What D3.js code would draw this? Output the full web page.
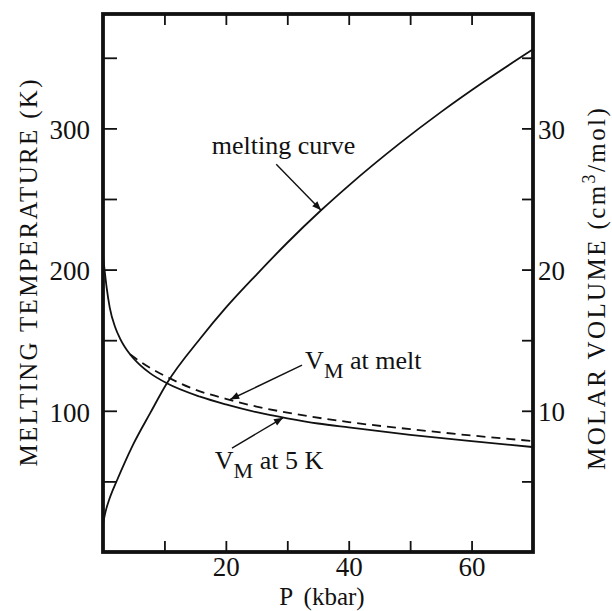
<!DOCTYPE html>
<html>
<head>
<meta charset="utf-8">
<script src="https://cdn.jsdelivr.net/npm/d3@7/dist/d3.min.js"></script>
<style>
  html, body { margin: 0; padding: 0; background: #fff; }
  svg text { font-family: "Liberation Serif", "Times New Roman", serif; }
  .axis text { font-size: 27px; fill: #111; font-family: "Liberation Serif", "Times New Roman", serif; }
  .axis line { stroke: #111; stroke-width: 1.8; }
  .axis path.domain { display: none; }
</style>
</head>
<body>
<div id="chart"></div>
<script>
// Melting curve (P in kbar, T in K).
const meltP = [0, 0.5, 1, 2.3, 3.5, 4.9, 7.7, 10.4, 15.8, 20, 25, 30, 35.5, 40, 48.2, 55, 62, 70];
const meltT = [20, 30, 37, 51, 63, 76, 98.5, 119.5, 151, 173, 196.5, 219, 242, 259.5, 289, 311.5, 333, 356];

// Molar volume at 5 K (solid), cm^3/mol.
const vol5P = [0, 0.3, 0.6, 1.1, 2, 2.8, 4.4, 6, 7.7, 10.4, 15.8, 20, 25, 30, 35, 40, 50, 60, 70];
const vol5V = [21.0, 19.8, 18.7, 17.3, 15.9, 15.1, 14.0, 13.25, 12.65, 11.95, 11.0, 10.45, 9.9, 9.47, 9.1, 8.82, 8.3, 7.85, 7.43];

// Molar volume along the melting line (dashed).
const volMeltP = [4.4, 6, 8, 10.4, 15, 20, 25, 30, 40, 50, 60, 70];
const volMeltV = [14.0, 13.5, 12.95, 12.4, 11.5, 10.85, 10.3, 9.87, 9.2, 8.7, 8.25, 7.86];

// Tick values for the frame.
const pTicks = [10, 20, 30, 40, 50, 60];
const pLabels = [20, 40, 60];
const tTicks = [50, 100, 150, 200, 250, 300, 350];
const tLabels = [100, 200, 300];
const vTicks = [5, 10, 15, 20, 25, 30, 35];
const vLabels = [10, 20, 30];

(function(){
  const width = 612, height = 611;
  const frame = {left: 103, right: 533, top: 14, bottom: 552};
  const ink = '#111';

  const svg = d3.select('#chart').append('svg')
    .attr('width', width)
    .attr('height', height);

  // Arrow head used by the annotations.
  svg.append('defs').append('marker')
    .attr('id', 'arrow')
    .attr('viewBox', '0 0 10 10')
    .attr('refX', 10).attr('refY', 5)
    .attr('markerWidth', 12).attr('markerHeight', 9)
    .attr('markerUnits', 'userSpaceOnUse')
    .attr('orient', 'auto')
    .append('path')
    .attr('d', 'M0,1 L10,5 L0,9 Z')
    .attr('fill', ink);

  const x = d3.scaleLinear().domain([0, 70]).range([frame.left, frame.right]);
  const yT = d3.scaleLinear().domain([0, 381]).range([frame.bottom, frame.top]);
  const yV = d3.scaleLinear().domain([0, 38.1]).range([frame.bottom, frame.top]);

  const labelIf = list => d => list.includes(d) ? d : '';

  // Axes: every tick points into the frame.
  svg.append('g').attr('class', 'axis')
    .attr('transform', `translate(0,${frame.bottom})`)
    .call(d3.axisBottom(x).tickValues(pTicks).tickSize(-11).tickPadding(5).tickFormat(labelIf(pLabels)));

  svg.append('g').attr('class', 'axis')
    .attr('transform', `translate(0,${frame.top})`)
    .call(d3.axisTop(x).tickValues(pTicks).tickSize(-11).tickFormat(''));

  svg.append('g').attr('class', 'axis')
    .attr('transform', `translate(${frame.left},0)`)
    .call(d3.axisLeft(yT).tickValues(tTicks).tickSize(-14).tickPadding(13).tickFormat(labelIf(tLabels)))
    .selectAll('text').attr('dy', '0.38em');

  svg.append('g').attr('class', 'axis')
    .attr('transform', `translate(${frame.right},0)`)
    .call(d3.axisRight(yV).tickValues(vTicks).tickSize(-11).tickPadding(5).tickFormat(labelIf(vLabels)))
    .selectAll('text').attr('dy', '0.36em');

  // Heavy box round the plot.
  svg.append('rect')
    .attr('x', frame.left).attr('y', frame.top)
    .attr('width', frame.right - frame.left)
    .attr('height', frame.bottom - frame.top)
    .attr('fill', 'none')
    .attr('stroke', ink)
    .attr('stroke-width', 3.8);

  // Curves.
  const plot = svg.append('g');
  const lineT = d3.line().x(d => x(d[0])).y(d => yT(d[1])).curve(d3.curveMonotoneX);
  const lineV = d3.line().x(d => x(d[0])).y(d => yV(d[1])).curve(d3.curveMonotoneX);

  plot.append('path')
    .datum(d3.zip(meltP, meltT))
    .attr('d', lineT)
    .attr('fill', 'none').attr('stroke', ink).attr('stroke-width', 1.8);

  plot.append('path')
    .datum(d3.zip(vol5P, vol5V))
    .attr('d', lineV)
    .attr('fill', 'none').attr('stroke', ink).attr('stroke-width', 1.8);

  plot.append('path')
    .datum(d3.zip(volMeltP, volMeltV))
    .attr('d', lineV)
    .attr('fill', 'none').attr('stroke', ink).attr('stroke-width', 1.8)
    .attr('stroke-dasharray', '9,6');

  // Annotations, placed in data units.
  const notes = svg.append('g').attr('fill', ink).style('font-size', '26px');

  notes.append('text')
    .attr('x', x(17.7)).attr('y', yT(282))
    .text('melting curve');

  function subLabel(px, py, tail){
    const t = notes.append('text').attr('x', px).attr('y', py);
    t.append('tspan').text('V');
    t.append('tspan').attr('dy', 9).style('font-size', '22px').text('M');
    t.append('tspan').attr('dy', -9).text(' ' + tail);
  }
  subLabel(x(32.9), yV(12.95), 'at melt');
  subLabel(x(18.2), yV(5.87), 'at 5 K');

  const arrow = (x1, y1, x2, y2) => svg.append('line')
    .attr('x1', x1).attr('y1', y1).attr('x2', x2).attr('y2', y2)
    .attr('stroke', ink).attr('stroke-width', 1.4)
    .attr('marker-end', 'url(#arrow)');

  arrow(x(28.2), yT(274.6), x(35.5), yT(242));
  arrow(x(32.4), yV(13.23), x(20.7), yV(10.8));
  arrow(x(21.0), yV(7.36), x(29.3), yV(9.5));

  // Axis titles.
  svg.append('text')
    .attr('transform', 'translate(37,273) rotate(-90)')
    .attr('text-anchor', 'middle')
    .attr('textLength', 387).attr('lengthAdjust', 'spacing')
    .style('font-size', '25px').attr('fill', ink)
    .text('MELTING TEMPERATURE (K)');

  // Right title is anchored at its start (bottom) and spread with letter spacing.
  const rt = svg.append('text')
    .attr('transform', 'translate(605,470) rotate(-90)')
    .attr('text-anchor', 'start')
    .style('font-size', '25px').style('letter-spacing', '2.4px').attr('fill', ink);
  rt.append('tspan').text('MOLAR VOLUME (cm');
  rt.append('tspan').attr('dy', -10).style('font-size', '18px').text('3');
  rt.append('tspan').attr('dy', 10).text('/mol)');

  svg.append('text')
    .attr('x', (frame.left + frame.right) / 2 + 4).attr('y', 605)
    .attr('text-anchor', 'middle')
    .style('font-size', '25px').attr('fill', ink)
    .attr('word-spacing', 5)
    .text('P (kbar)');
})();
</script>
</body>
</html>
